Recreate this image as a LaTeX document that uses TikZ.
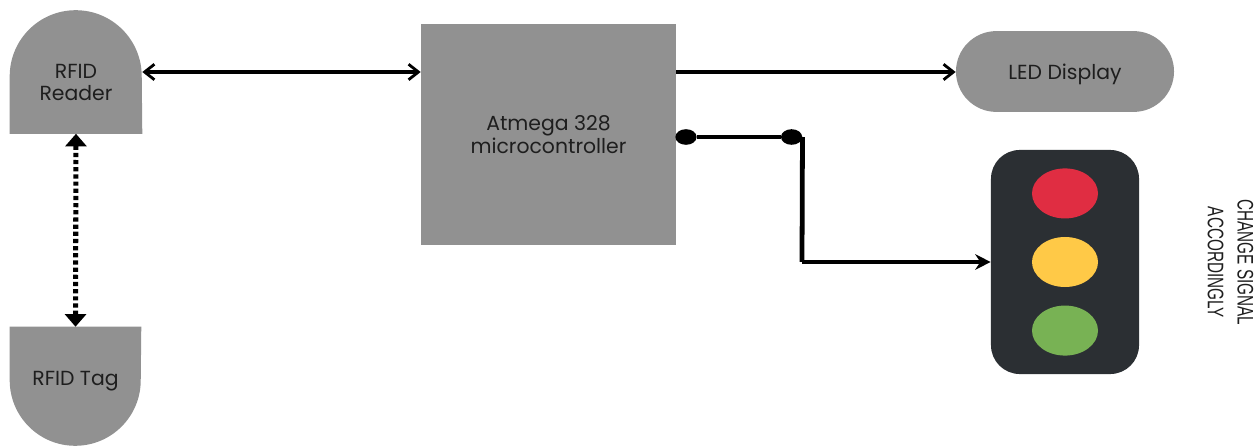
\documentclass[tikz,border=0pt]{standalone}
\usepackage{fontspec}
\setmainfont{Poppins}
\newfontfamily\signalfont{Liberation Sans}
\usetikzlibrary{arrows.meta, shapes.geometric, shapes.misc, positioning, backgrounds}
\definecolor{boxgray}{RGB}{145, 145, 145}
\definecolor{lightbody}{RGB}{43, 47, 51}
\definecolor{lampred}{RGB}{224, 45, 66}
\definecolor{lampyellow}{RGB}{255, 201, 71}
\definecolor{lampgreen}{RGB}{120, 178, 84}
\definecolor{labeltext}{RGB}{30, 30, 30}
\tikzset{
  graybox/.style={
    rectangle, fill=boxgray, text=labeltext, align=center, text depth=0pt,
    inner sep=0pt, font=\fontsize{14.5}{15.6}\selectfont
  },
  halfbox/.style={graybox, fill=none, minimum width=3.3cm, minimum height=2.55cm},
  ledbox/.style={
    graybox, rounded rectangle, minimum width=5.45cm, minimum height=2.02cm
  },
  lamp/.style={ellipse, minimum width=1.65cm, minimum height=1.25cm, inner sep=0pt},
  joint/.style={ellipse, fill=black, minimum width=0.53cm, minimum height=0.39cm, inner sep=0pt},
  arrow/.style={-{Stealth[length=11pt,width=11pt]}, line width=2.4pt},
  bararrow/.style={{Straight Barb[length=7pt,width=11pt,line width=2pt]}-{Straight Barb[length=7pt,width=11pt,line width=2pt]}, line width=2.4pt},
  linkarrow/.style={{Triangle[length=9pt,width=15pt]}-{Triangle[length=9pt,width=15pt]}, line width=3.6pt, dash pattern=on 3pt off 2.1pt}
}
\begin{document}
\begin{tikzpicture}[x=0.025cm, y=-0.025cm]

  \useasboundingbox (0,0) rectangle (1259,446);

  %% ---- Left column ----
  \node[halfbox] (reader) at (76,82.5) {RFID\\Reader};
  \node[halfbox, minimum width=3.275cm] (tag) at (75.5,378) {RFID Tag};

  %% ---- Gray shapes of the two half-round boxes ----
  \begin{scope}[on background layer]
    \fill[boxgray] (reader.south west) -- ([yshift=-1.125cm]reader.north west)
      arc[start angle=180, end angle=0, radius=1.65cm] -- (reader.south east) -- cycle;
    \fill[boxgray] (tag.north west) -- ([yshift=1.225cm]tag.south west)
      arc[start angle=180, end angle=360, radius=1.6375cm] -- (tag.north east) -- cycle;
  \end{scope}

  %% ---- Centre and right boxes ----
  \node[graybox, minimum width=6.375cm, minimum height=5.525cm,
    font=\fontsize{14.5}{16.6}\selectfont] (micro) at (548.5,134.5)
    {Atmega 328\\microcontroller};
  \node[ledbox] (led) at (1065,71.5) {LED Display};

  %% ---- Traffic light ----
  \node[rectangle, rounded corners=0.72cm, fill=lightbody, minimum width=3.7cm, minimum height=5.6cm] (light) at (1065,262) {};
  \node[lamp, fill=lampyellow] (yellow) at (light.center) {};
  \node[lamp, fill=lampred, above=0.45cm of yellow] (red) {};
  \node[lamp, fill=lampgreen, below=0.45cm of yellow] (green) {};

  \node[rotate=-90, align=center, text=labeltext, xscale=0.68,
    font=\signalfont\fontsize{16}{21}\selectfont] (signal) at (1230.5,262.5)
    {CHANGE SIGNAL\\ACCORDINGLY};

  %% ---- Connectors ----
  \coordinate (readerport) at (reader.east |- 0,72);
  \coordinate (ledport) at (micro.east |- 0,72);
  \draw[bararrow] (readerport) -- (micro.west |- readerport);
  \draw[arrow, -{Straight Barb[length=7pt,width=11pt,line width=2pt]}] (ledport) -- (led.west |- ledport);
  \draw[linkarrow] (reader.south) -- (tag.north);

  %% ---- Output to the traffic light, with its two joints ----
  \node[joint] (jointa) at (686,137) {};
  \node[joint, right=2.095cm of jointa] (jointb) {};
  \coordinate (corner) at (802,262);
  \draw[line width=2.4pt] (jointa) -- (jointb);
  \draw[line width=3.4pt] (jointb.east) -- (corner);
  \draw[arrow] (corner) -- (light.west);

\end{tikzpicture}
\end{document}
